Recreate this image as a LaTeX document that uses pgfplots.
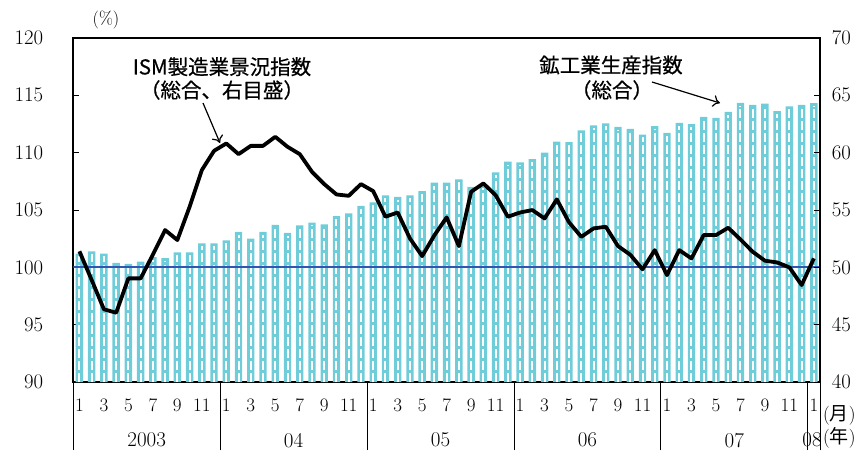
\documentclass[border=0pt]{standalone}
\usepackage{fontspec}
\usepackage{pgfplots}
\pgfplotsset{compat=1.18}
\usepackage{pgfplotstable}
\usetikzlibrary{arrows.meta}
\newfontfamily\jp[FakeBold=0.6]{Noto Sans CJK JP}
\newfontfamily\jpr{Noto Sans CJK JP}
\definecolor{barcyan}{RGB}{111,204,217}
\definecolor{refblue}{RGB}{52,84,180}

\pgfplotstableread{
i p s
0 101.2 51.4
1 101.4 48.9
2 101.2 46.35
3 100.4 46.05
4 100.3 49.04
5 100.5 49.04
6 100.9 51.1
7 100.8 53.25
8 101.3 52.38
9 101.3 55.27
10 102.1 58.47
11 102.1 60.15
12 102.35 60.79
13 103.1 59.86
14 102.5 60.58
15 103.1 60.58
16 103.7 61.37
17 103.0 60.5
18 103.65 59.86
19 103.9 58.32
20 103.75 57.25
21 104.46 56.35
22 104.7 56.23
23 105.36 57.25
24 105.65 56.64
25 106.26 54.41
26 106.14 54.78
27 106.26 52.52
28 106.64 50.98
29 107.37 52.8
30 107.37 54.35
31 107.66 51.85
32 107.0 56.58
33 107.2 57.31
34 108.27 56.29
35 109.2 54.41
36 109.14 54.78
37 109.43 54.99
38 110.0 54.26
39 110.96 55.92
40 110.9 53.92
41 111.92 52.66
42 112.36 53.39
43 112.53 53.54
44 112.24 51.85
45 112.06 51.1
46 111.57 49.83
47 112.3 51.5
48 111.72 49.33
49 112.59 51.5
50 112.47 50.78
51 113.11 52.81
52 113.02 52.81
53 113.54 53.45
54 114.33 52.43
55 114.15 51.36
56 114.27 50.58
57 113.6 50.43
58 114.01 50.0
59 114.15 48.46
60 114.3 50.78
}\data

\begin{document}
\begin{tikzpicture}
\path[use as bounding box] (0,0) rectangle (863pt,451pt);
\begin{axis}[
  at={(73.3pt,68.8pt)}, anchor=south west,
  scale only axis, width=746.7pt, height=344.5pt,
  xmin=-0.5, xmax=60.5, ymin=90, ymax=120,
  clip mode=individual,
  ytick={90,95,...,120}, ytick pos=left,
  tick align=inside, major tick length=6pt,
  every tick/.style={black, line width=0.8pt},
  axis line style={line width=2.2pt},
  yticklabel style={font=\fontsize{21}{21}\selectfont, anchor=east, inner sep=0pt, xshift=-30pt},
  xtick={0,2,...,60}, xtick pos=left,
  xticklabels={1,3,5,7,9,11,1,3,5,7,9,11,1,3,5,7,9,11,1,3,5,7,9,11,1,3,5,7,9,11,1},
  x tick style={draw=none},
  xticklabel style={font=\fontsize{19}{19}\selectfont, anchor=north, inner sep=0pt, yshift=-16.5pt},
  extra x ticks={-0.5,11.5,23.5,35.5,47.5,59.5,60.5},
  extra x tick labels={},
  extra x tick style={tick align=outside, major tick length=68pt, xtick pos=left, x tick style={draw=black, line width=0.8pt}},
]
\addplot[ybar, bar width=0.6, fill=barcyan, draw=none] table[x=i, y=p] {\data};
\addplot[ycomb, white, line width=2pt, dash pattern=on 9pt off 3pt, mark=none] table[x=i, y expr=\thisrow{p}-0.25] {\data};
\addplot[refblue, line width=2pt] coordinates {(-0.5,100) (60.5,100)};
\node[font=\fontsize{21}{21}\selectfont] at (axis cs:5.5,90) [yshift=-58pt] {2003};
\node[font=\fontsize{21}{21}\selectfont] at (axis cs:17.5,90) [yshift=-58pt] {04};
\node[font=\fontsize{21}{21}\selectfont] at (axis cs:29.5,90) [yshift=-58pt] {05};
\node[font=\fontsize{21}{21}\selectfont] at (axis cs:41.5,90) [yshift=-58pt] {06};
\node[font=\fontsize{21}{21}\selectfont] at (axis cs:53.5,90) [yshift=-58pt] {07};
\node[font=\fontsize{21}{21}\selectfont] at (axis cs:59.85,90) [yshift=-58pt] {08};
\node[font=\fontsize{19}{19}\selectfont, anchor=west, inner sep=0pt] at (axis cs:60.5,90) [xshift=3pt, yshift=-33pt] {({\jpr 月})};
\node[font=\fontsize{19}{19}\selectfont, anchor=west, inner sep=0pt] at (axis cs:60.5,90) [xshift=3pt, yshift=-56pt] {({\jpr 年})};
\end{axis}
\begin{axis}[
  at={(73.3pt,68.8pt)}, anchor=south west,
  scale only axis, width=746.7pt, height=344.5pt,
  xmin=-0.5, xmax=60.5, ymin=40, ymax=70,
  axis x line=none, axis y line*=right,
  ytick={40,45,...,70},
  tick align=inside, major tick length=6pt,
  every tick/.style={black, line width=0.8pt},
  axis line style={line width=2.2pt},
  yticklabel style={font=\fontsize{21}{21}\selectfont, anchor=west, inner sep=0pt, xshift=11.7pt},
]
\addplot[black, line width=3.8pt, line join=round, mark=none] table[x=i, y=s] {\data};
\end{axis}
\node[font=\fontsize{18}{18}\selectfont] at (106pt,431pt) {(\%)};
\node[font=\jp\fontsize{20.5}{20.5}\selectfont] at (222pt,384.3pt) {ISM製造業景況指数};
\node[font=\jp\fontsize{20.5}{20.5}\selectfont] at (222pt,361pt) {（総合、右目盛）};
\draw[line width=1.2pt, -{To[length=7pt,width=12pt]}] (203pt,348pt) -- (220pt,308pt);
\node[font=\jp\fontsize{20.5}{20.5}\selectfont] at (611pt,386pt) {鉱工業生産指数};
\node[font=\jp\fontsize{20.5}{20.5}\selectfont] at (612pt,361pt) {（総合）};
\draw[line width=1.2pt, -{To[length=7pt,width=12pt]}] (652pt,369pt) -- (720pt,348pt);
\end{tikzpicture}
\end{document}
